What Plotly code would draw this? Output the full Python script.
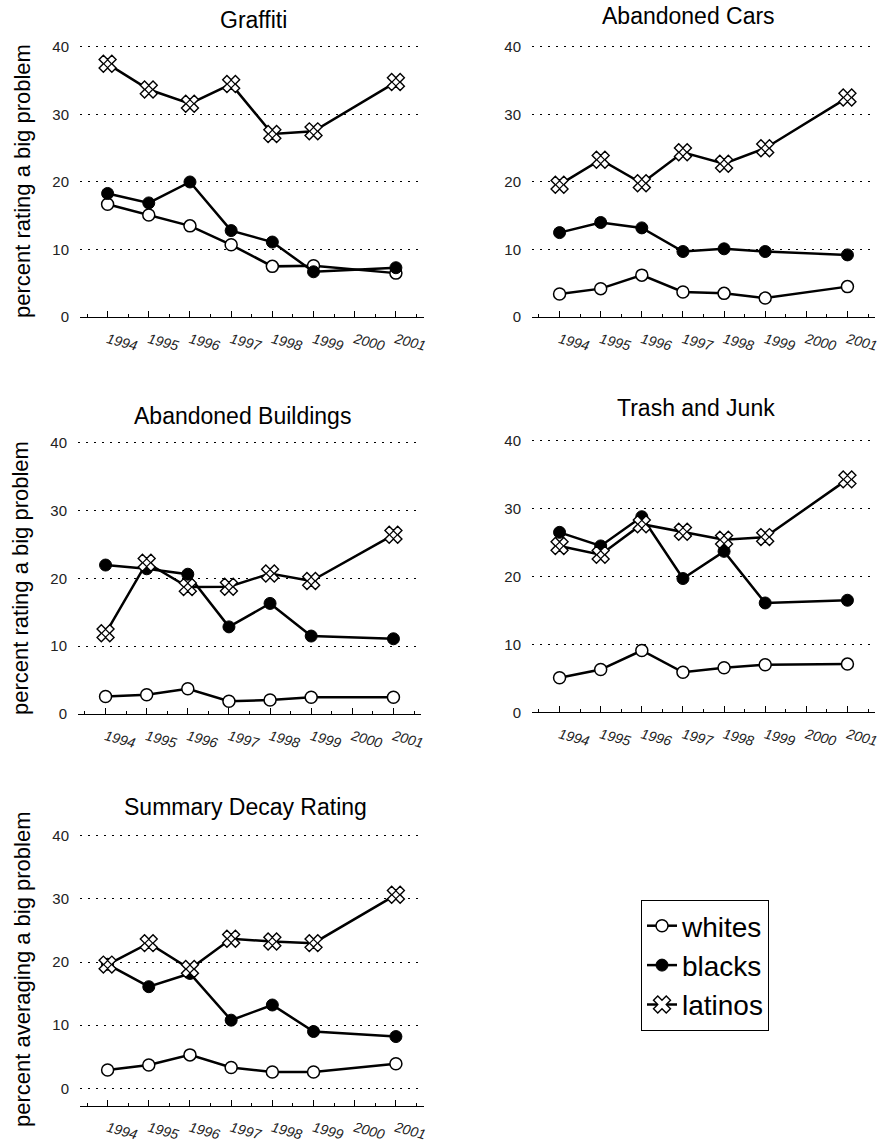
import plotly.graph_objects as go

# ---------------- data ----------------
years = [1994, 1995, 1996, 1997, 1998, 1999, 2001]
tick_years = [1994, 1995, 1996, 1997, 1998, 1999, 2000, 2001]
tick_labels = ["1994", "1995", "1996", "1997", "1998", "1999", "2000", "2001"]
y_ticks = [0, 10, 20, 30, 40]
y_tick_labels = ["0", "10", "20", "30", "40"]

series_names = ["whites", "blacks", "latinos"]

graffiti_whites = [16.7, 15.1, 13.5, 10.7, 7.5, 7.6, 6.5]
graffiti_blacks = [18.3, 16.9, 20.0, 12.8, 11.1, 6.7, 7.3]
graffiti_latinos = [37.5, 33.7, 31.6, 34.5, 27.1, 27.5, 34.8]

cars_whites = [3.4, 4.2, 6.2, 3.7, 3.5, 2.8, 4.5]
cars_blacks = [12.5, 14.0, 13.2, 9.7, 10.1, 9.7, 9.2]
cars_latinos = [19.6, 23.3, 19.8, 24.4, 22.7, 25.0, 32.5]

buildings_whites = [2.6, 2.85, 3.75, 1.9, 2.1, 2.5, 2.5]
buildings_blacks = [21.95, 21.4, 20.6, 12.85, 16.3, 11.5, 11.1]
buildings_latinos = [11.9, 22.3, 18.7, 18.75, 20.7, 19.6, 26.4]

trash_whites = [5.1, 6.3, 9.1, 5.9, 6.55, 7.0, 7.1]
trash_blacks = [26.5, 24.5, 28.8, 19.7, 23.7, 16.1, 16.5]
trash_latinos = [24.5, 23.2, 27.7, 26.6, 25.4, 25.8, 34.3]

summary_whites = [2.9, 3.7, 5.3, 3.3, 2.6, 2.6, 3.9]
summary_blacks = [19.65, 16.1, 18.2, 10.8, 13.2, 9.0, 8.2]
summary_latinos = [19.6, 23.0, 18.9, 23.7, 23.25, 23.0, 30.65]

panel_titles = ["Graffiti", "Abandoned Cars", "Abandoned Buildings",
                "Trash and Junk", "Summary Decay Rating"]
y_titles = ["percent rating a big problem", "", "percent rating a big problem",
            "", "percent averaging a big problem"]

panel_data = [
    (graffiti_whites, graffiti_blacks, graffiti_latinos),
    (cars_whites, cars_blacks, cars_latinos),
    (buildings_whites, buildings_blacks, buildings_latinos),
    (trash_whites, trash_blacks, trash_latinos),
    (summary_whites, summary_blacks, summary_latinos),
]

# ---------------- layout geometry (pixels) ----------------
W, H = 883, 1146
# x px left/right, y px top/bottom of plot area, y range
geom = [
    (80, 423.5, 44.6, 317.0, [0, 40.35]),
    (532, 875, 44.6, 317.0, [0, 40.35]),
    (78, 421, 440.0, 714.2, [0, 40.35]),
    (532, 875, 438.3, 712.3, [0, 40.35]),
    (80, 423.5, 833.6, 1105.7, [-2.75, 40.35]),
]
title_pos = [(254, 20), (688, 16), (243, 416), (696, 408), (245, 807)]
ytitle_pos = [(23, 181), None, (20, 578), None, (22, 969)]


def px_x(p):
    return p / W


def px_y(p):
    return 1 - p / H


FONT = "Liberation Sans, Arial, sans-serif"
LINE_W = 2.5

fig = go.Figure()
layout = {}
annotations = []

for i, (data, g) in enumerate(zip(panel_data, geom)):
    k = "" if i == 0 else str(i + 1)
    x0, x1, yt, yb, yr = g
    xa = "x" + k
    ya = "y" + k
    whites, blacks, latinos = data
    show = i == 0
    fig.add_trace(go.Scatter(
        x=years, y=whites, name=series_names[0], mode="lines+markers",
        line=dict(color="black", width=LINE_W),
        marker=dict(symbol="circle", size=12, color="white",
                    line=dict(color="black", width=1.5)),
        xaxis=xa, yaxis=ya, showlegend=show, legendgroup="w", cliponaxis=False))
    fig.add_trace(go.Scatter(
        x=years, y=blacks, name=series_names[1], mode="lines+markers",
        line=dict(color="black", width=LINE_W),
        marker=dict(symbol="circle", size=12, color="black",
                    line=dict(color="black", width=1)),
        xaxis=xa, yaxis=ya, showlegend=show, legendgroup="b", cliponaxis=False))
    fig.add_trace(go.Scatter(
        x=years, y=latinos, name=series_names[2], mode="lines+markers",
        line=dict(color="black", width=LINE_W),
        marker=dict(symbol="x", size=15, color="white",
                    line=dict(color="black", width=1.4)),
        xaxis=xa, yaxis=ya, showlegend=show, legendgroup="l", cliponaxis=False))
    fig.add_trace(go.Scatter(
        x=years, y=latinos, mode="markers", hoverinfo="skip",
        marker=dict(symbol="diamond-open", size=6, color="black",
                    line=dict(color="black", width=1.2)),
        xaxis=xa, yaxis=ya, showlegend=False, legendgroup="l", cliponaxis=False))

    layout["xaxis" + k] = dict(
        domain=[px_x(x0), px_x(x1)], anchor=ya, automargin=False,
        range=[1993.33, 2001.67],
        tickmode="array", tickvals=tick_years, ticktext=tick_labels,
        tickangle=15, ticks="inside", ticklen=6, tickwidth=1.3, tickcolor="black",
        minor=dict(ticks="inside", ticklen=3, tickwidth=1, tickcolor="black",
                   tickmode="linear", tick0=1993.5, dtick=1),
        showline=True, linecolor="black", linewidth=1.2,
        showgrid=False, zeroline=False,
        tickfont=dict(family=FONT, size=14, color="#222", style="italic"),
        ticklabelstandoff=8,
    )
    layout["yaxis" + k] = dict(
        domain=[px_y(yb), px_y(yt)], anchor=xa, automargin=False,
        range=yr, tickmode="array", tickvals=y_ticks, ticktext=y_tick_labels,
        ticks="", showline=False, zeroline=False,
        showgrid=True, gridcolor="black", gridwidth=1.2, griddash="2px,6px",
        tickfont=dict(family=FONT, size=15, color="#222"),
        ticklabelstandoff=10,
    )
    tx, ty = title_pos[i]
    annotations.append(dict(
        text=panel_titles[i], x=px_x(tx), y=px_y(ty), xref="paper", yref="paper",
        xanchor="center", yanchor="middle", showarrow=False,
        font=dict(family=FONT, size=23, color="black")))
    if ytitle_pos[i] is not None:
        ax_, ay_ = ytitle_pos[i]
        annotations.append(dict(
            text=y_titles[i], x=px_x(ax_), y=px_y(ay_), xref="paper", yref="paper",
            xanchor="center", yanchor="middle", showarrow=False, textangle=-90,
            font=dict(family=FONT, size=22, color="black")))

fig.update_layout(
    **layout,
    annotations=annotations,
    width=W, height=H, autosize=False,
    margin=dict(l=0, r=0, t=0, b=0, pad=0, autoexpand=False),
    paper_bgcolor="white", plot_bgcolor="white",
    font=dict(family=FONT, color="black"),
    legend=dict(
        x=px_x(641), y=px_y(900), xanchor="left", yanchor="top",
        bordercolor="black", borderwidth=1, bgcolor="white",
        font=dict(family=FONT, size=28, color="black"),
        itemwidth=30, tracegroupgap=0,
    ),
)

fig.write_html("out.html", config={"displayModeBar": False},
               post_script="document.body.style.margin='0px';")
